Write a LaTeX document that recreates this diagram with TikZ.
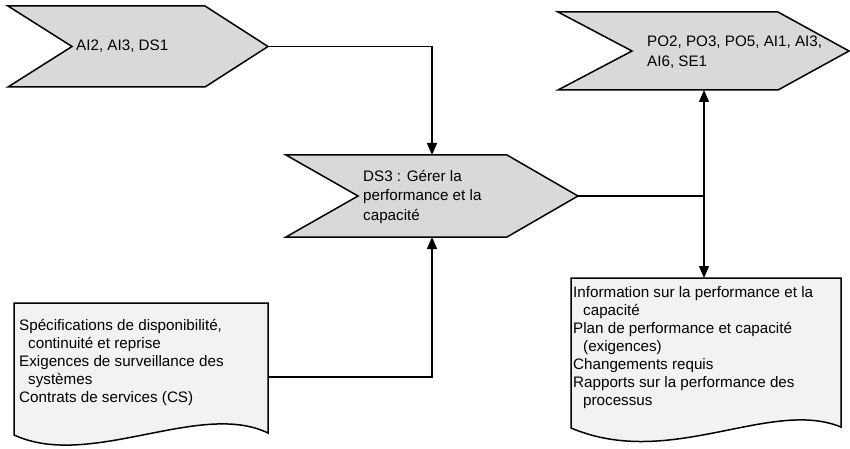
\documentclass[tikz,border=0pt]{standalone}
\usepackage{fontspec}
\setmainfont{Liberation Sans}
\usetikzlibrary{arrows.meta}
\definecolor{chevfill}{RGB}{217,217,217}
\definecolor{docfill}{RGB}{242,242,242}
\begin{document}
\begin{tikzpicture}[x=1pt,y=-1pt,
  outline/.style={draw=black,line width=1.5pt,line join=miter},
  chevron/.style={outline,fill=chevfill},
  document/.style={outline,fill=docfill},
  % multi-line labels are placed by the baseline of their last line
  label/.style={inner sep=0pt,align=left,anchor=base west,
    font=\fontsize{15.2}{19.5}\selectfont},
  doclabel/.style={label,font=\fontsize{15.2}{18}\selectfont},
  link/.style={line width=1.5pt},
  arrowlink/.style={link,-{Triangle[length=12pt,width=10pt]}}]
\useasboundingbox (0,0) rectangle (850,449);

% input chevron
\draw[chevron] (8,6) -- (205,6) -- (268,46.5) -- (205,87) -- (8,87) -- (72,46.5) -- cycle;
\coordinate (intip) at (268,46.5);
\node[label,anchor=west] (inlbl) at (76,46.5) {AI2, AI3, DS1};

% output chevron
\draw[chevron] (558,12) -- (778,12) -- (849,51) -- (778,90) -- (558,90) -- (632,51) -- cycle;
\coordinate (outbottom) at (704,90);
\node[label] (outlbl) at (647,66.5) {PO2, PO3, PO5, AI1, AI3,\\AI6, SE1};

% process chevron
\draw[chevron] (286,155) -- (507,155) -- (578,196) -- (507,237) -- (286,237) -- (358,196) -- cycle;
\coordinate (proctop) at (432,155);
\coordinate (procbottom) at (432,237);
\coordinate (proctip) at (578,196);
\node[label] (proclbl) at (363,220) {DS3 : Gérer la\\performance et la\\capacité};

% input document
\draw[document] (14,303) -- (268,303) -- (268,433)
  .. controls (200,400) and (90,470) .. (14,435) -- cycle;
\coordinate (indocside) at (268,377);
\node[doclabel] (indoclbl) at (19,402) {Spécifications de disponibilité,\\\hspace*{9pt}continuité et reprise\\Exigences de surveillance des\\\hspace*{9pt}systèmes\\Contrats de services (CS)};

% output document
\draw[document] (571,278) -- (841,278) -- (841,427)
  .. controls (770,398) and (670,470) .. (571,428) -- cycle;
\coordinate (outdoctop) at (704,278);
\node[doclabel] (outdoclbl) at (573,405) {Information sur la performance et la\\\hspace*{10pt}capacité\\Plan de performance et capacité\\\hspace*{10pt}(exigences)\\Changements requis\\Rapports sur la performance des\\\hspace*{10pt}processus};

% connectors
\draw[arrowlink] (intip) -| (proctop);
\draw[arrowlink] (indocside) -| (procbottom);
\coordinate (split) at (704,196);
\draw[link] (proctip) -- (split);
\draw[arrowlink] (split) -- (outbottom);
\draw[arrowlink] (split) -- (outdoctop);
\end{tikzpicture}
\end{document}
